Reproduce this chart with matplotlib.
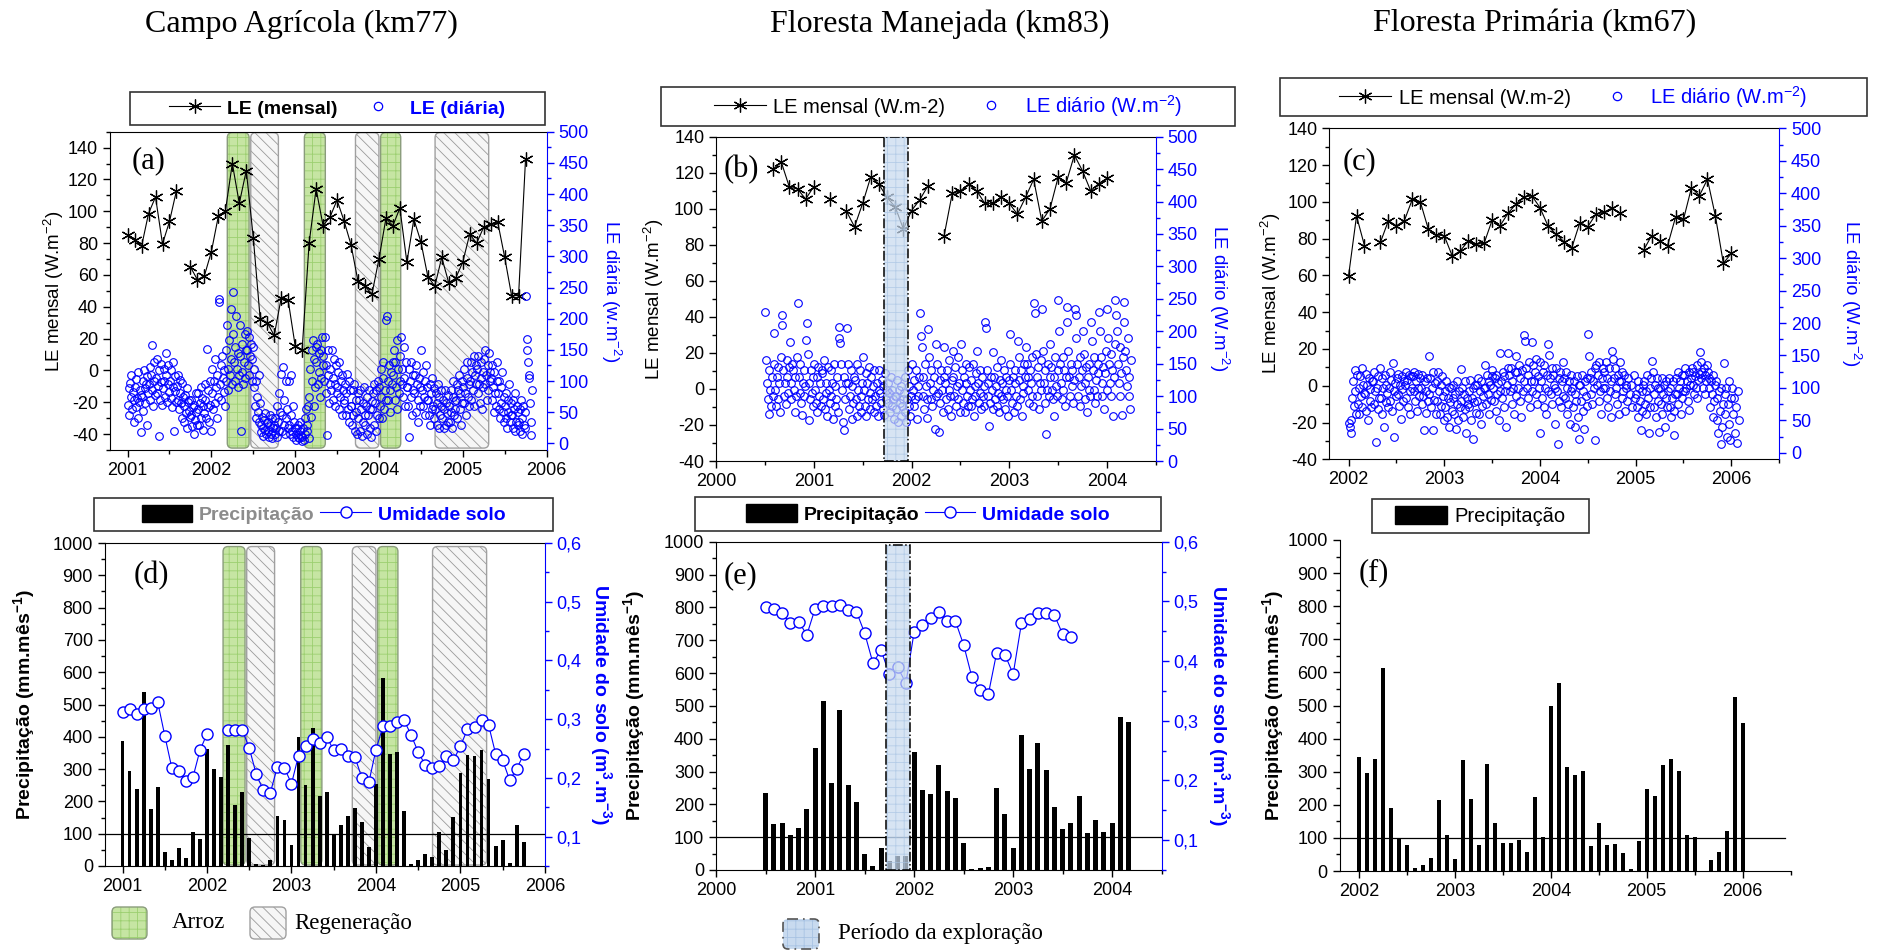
import numpy as np
import matplotlib.pyplot as plt
from matplotlib.patches import FancyBboxPatch, Rectangle, Patch
from matplotlib.lines import Line2D
from matplotlib.transforms import blended_transform_factory
from matplotlib.ticker import MultipleLocator, FuncFormatter

# --- FONT SETTINGS ---
plt.rcParams.update({
    'font.family': 'Liberation Sans',
    'font.size': 13,
    'axes.unicode_minus': False,
    'mathtext.fontset': 'custom',
    'mathtext.rm': 'Liberation Sans',
    'mathtext.it': 'Liberation Sans:italic',
    'mathtext.bf': 'Liberation Sans:bold',
    'mathtext.default': 'regular',
    'hatch.linewidth': 0.6,
})

nan = np.nan
W, H = 1883, 951

# --- DATA ---
# Campo Agricola (km77): monthly series start Jan 2001
le_mensal_a = [85, 82, 78, 98.6, 109, 79.5, 93.6, 113, nan, 65, 57, 59.5,
               74.6, 97, 100, 130, 105, 125.6, 83.5, 32, 30, 22, 45.5, 44,
               15.6, 13, 80, 114, 91, 96.5, 107, 94, 79, 56, 53, 48,
               70, 95.5, 91, 102, 68, 95, 81, 59, 53, 71, 55, 58,
               68, 85.6, 80, 90, 92, 93.4, 71.4, 47, 47, 133]

# daily LE, one string per month (Jan 2001 ... Oct 2005)
daily_a = [
    "62 88 45 97 74 110 55 83 35 70",
    "90 58 104 72 40 115 66 85 18 78",
    "75 100 52 118 88 64 95 30 108 80",
    "95 122 70 110 85 158 60 100 130 78",
    "105 80 135 92 12 118 70 128 98 62",
    "88 120 100 75 145 110 66 95 125 82",
    "100 72 118 58 90 130 20 84 108 66",
    "92 70 110 55 80 102 64 40 96 75",
    "60 35 78 48 88 25 66 52 70 42",
    "45 70 28 58 15 62 38 80 50 30",
    "55 80 30 65 90 40 72 22 60 48",
    "70 95 40 152 58 85 35 100 62 20",
    "80 120 55 100 135 65 90 40 110 75",
    "232 227 95 125 70 140 105 82 118 60",
    "150 100 190 120 85 165 110 215 135 95",
    "243 175 130 100 155 205 120 90 145 110",
    "190 140 20 115 160 95 130 175 105 150",
    "180 150 125 170 110 140 160 100 135 155",
    "120 90 60 100 40 75 50 110 35 65",
    "30 18 42 25 12 38 22 48 15 33",
    "20 35 10 28 45 15 8 40 25 30",
    "15 40 25 60 10 35 80 20 50 112",
    "20 45 123 30 70 15 100 40 55 25",
    "30 100 15 45 110 20 60 10 35 25",
    "15 5 25 10 30 8 20 35 12 3",
    "10 25 5 40 15 55 30 20 60 8",
    "75 120 43 150 100 165 60 135 90 155",
    "130 160 95 145 115 75 150 105 170 125",
    "140 100 171 80 125 13 110 150 65 95",
    "120 85 150 70 105 135 60 95 125 80",
    "90 115 55 130 75 100 45 110 85 65",
    "70 95 45 80 112 55 100 35 85 60",
    "60 30 85 45 95 20 70 50 15 80",
    "40 70 20 85 55 12 65 35 90 45",
    "30 60 15 75 45 85 25 55 10 68",
    "55 80 30 95 65 20 85 45 100 40",
    "90 60 120 75 40 105 130 55 85 70",
    "198 205 100 70 125 85 50 115 95 130",
    "110 150 70 130 90 165 55 120 80 100",
    "140 170 95 120 75 155 105 60 130 90",
    "90 60 120 10 100 75 130 45 85 110",
    "80 110 50 125 95 35 70 105 60 90",
    "150 85 60 115 75 100 45 125 90 70",
    "70 45 95 30 80 55 105 60 40 88",
    "55 80 30 65 95 25 75 45 85 60",
    "40 70 25 55 85 30 65 48 78 35",
    "60 35 85 50 25 75 100 45 68 55",
    "70 95 40 85 110 55 80 30 100 65",
    "90 65 120 80 45 105 130 75 95 60",
    "100 130 70 115 85 140 60 110 95 125",
    "120 80 140 95 65 130 105 55 115 90",
    "135 95 150 110 70 125 85 145 100 115",
    "105 70 125 90 50 115 80 60 100 130",
    "80 55 100 40 90 65 115 50 75 35",
    "60 40 80 25 70 50 95 35 65 45",
    "45 70 25 55 20 80 35 60 30 50",
    "35 55 20 70 40 15 60 30 50 25",
    "237 167 150 130 110 105 64 35 14 85",
]

precip_d = [388, 295, 239, 540, 176, 246, 44, 19, 57, 26, 106, 83,
            362, 300, 276, 374, 189, 229, 86, 5, 4, 18, 156, 143,
            65, 400, 251, 427, 217, 228, 99, 126, 155, 179, 136, 60,
            254, 582, 347, 354, 169, 6, 19, 37, 28, 104, 48, 152,
            288, 344, 340, 360, 269, 61, 79, 8, 127, 74]
umidade_d = [0.312, 0.318, 0.308, 0.318, 0.319, 0.329, 0.272, 0.217, 0.211, 0.195, 0.201, 0.247,
             0.275, nan, nan, 0.282, 0.281, 0.282, 0.251, 0.206, 0.179, 0.175, 0.219, 0.217,
             0.190, 0.238, 0.255, 0.267, 0.260, 0.270, 0.247, 0.250, 0.237, 0.236, 0.200, 0.193,
             0.248, 0.288, 0.288, 0.296, 0.298, 0.273, 0.244, 0.222, 0.217, 0.220, 0.237, 0.230,
             0.254, 0.283, 0.287, 0.298, 0.290, 0.241, 0.230, 0.196, 0.216, 0.240]

arroz_periods = [(2002.19, 2002.45), (2003.11, 2003.36), (2004.02, 2004.26)]
regen_periods = [(2002.47, 2002.80), (2003.72, 2004.00), (2004.67, 2005.31)]

# Floresta Manejada (km83): monthly LE from Aug 2000, daily/precip/soil from Jul 2000
le_mensal_b = [122, 126, 112, 111, 105.4,
               112.3, nan, 105.4, nan, 98.7, 90, 103, 117.8, 113.5, 106.3, 101, 88.8,
               99, 104.9, 112.6, nan, 85, 108.5, 110, 113.5, 110, 103, 103, 106.7,
               103, 97, 106.3, 116.3, 93.2, 99.9, 117.4, 114.5, 129.8, 121, 110, 114,
               116.9]

daily_b = [
    "229 155 120 95 140 72 110 85 130 100",
    "150 198 110 85 130 145 95 120 75 160",
    "210 225 140 100 120 88 155 130 105 145",
    "184 120 95 150 140 110 75 130 100 160",
    "243 130 105 150 90 71 120 140 100 115",
    "187 213 165 63 120 95 140 105 85 130",
    "150 110 90 130 75 145 100 120 85 140",
    "135 95 155 80 120 105 70 145 110 90",
    "140 100 120 65 150 85 115 95 130 75",
    "207 190 182 150 110 60 130 48 95 120",
    "205 150 120 80 100 140 65 115 90 130",
    "125 95 150 70 110 85 140 100 75 120",
    "160 110 85 135 70 120 95 145 80 105",
    "130 95 115 75 140 100 85 120 70 110",
    "140 105 90 125 80 115 71 135 95 110",
    "120 90 105 75 130 85 110 95 65 100",
    "100 80 125 60 110 90 70 115 85 95",
    "105 75 130 60 95 140 85 115 70 100",
    "150 110 85 125 95 140 65 115 100 130",
    "228 193 176 130 100 80 150 115 66 95",
    "203 160 120 95 140 85 110 130 50 100",
    "180 150 105 45 125 90 140 110 75 130",
    "175 120 95 140 80 110 155 100 70 125",
    "170 130 100 145 85 115 160 95 120 75",
    "180 140 110 90 130 75 120 150 100 85",
    "145 110 85 125 95 150 70 115 100 135",
    "170 120 90 140 105 80 130 100 115 85",
    "215 205 140 100 120 54 90 130 110 80",
    "168 130 95 115 85 145 105 75 125 100",
    "155 120 95 140 80 110 130 100 70 125",
    "196 150 110 90 130 75 120 140 100 85",
    "185 160 125 95 140 70 115 105 150 130",
    "176 150 110 130 90 140 120 100 160 85",
    "243 228 165 130 100 145 80 120 155 110",
    "235 170 120 90 140 42 110 150 100 130",
    "180 145 110 95 130 70 160 115 100 140",
    "248 200 150 120 95 160 110 140 85 130",
    "238 215 170 130 100 150 115 140 90 125",
    "235 225 190 150 100 130 85 160 115 140",
    "200 165 120 95 145 75 130 110 150 100",
    "215 185 140 110 160 90 125 100 150 135",
    "230 200 160 120 100 145 80 135 170 110",
    "235 190 150 120 165 100 140 70 130 180",
    "248 225 200 150 120 175 100 135 71 160",
    "245 215 170 140 115 190 100 130 80 155",
]

precip_e = [236, 139, 144, 107, 128, 187,
            373, 515, 264, 487, 259, 208, 49, 13, 67, 28, 43, 43,
            359, 244, 231, 319, 242, 218, 82, 3, 7, 8, 250, 170,
            66, 411, 307, 386, 304, 192, 125, 142, 225, 113, 151, 117,
            144, 465, 450]
umidade_e = [0.491, 0.487, 0.480, 0.463, 0.466, 0.444,
             0.488, 0.493, 0.492, 0.494, 0.485, 0.483, 0.447, 0.397, 0.418, 0.378, 0.390, 0.363,
             0.449, 0.460, 0.473, 0.482, 0.467, 0.467, 0.427, 0.373, 0.351, 0.345, 0.414, 0.411,
             0.378, 0.463, 0.470, 0.481, 0.481, 0.477, 0.445, 0.441]

exploracao_period = (2001.72, 2001.96)

# Floresta Primaria (km67): everything from Jan 2002
le_mensal_c = [59.7, 92.3, 76.2, nan, 78, 89.8, 87, 89.8, 101.4, 100, 85.2, 82,
               81.6, 70.6, 73.3, 78.7, 76.9, 77.5, 90, 87, 93.8, 98.8, 102.8, 103.2,
               96.9, 87, 82.5, 78.4, 75.1, 88.7, 86.5, 93.2, 94.3, 96.5, 93.8, nan,
               nan, 73.8, 81.6, 78.9, 76.2, 91.6, 90.5, 107.7, 103.4, 112.3, 92.3, 66.6,
               72]

daily_c = [
    "46 40 51 30 85 110 72 128 95 60",
    "120 75 100 60 118 88 130 70 105 92",
    "90 122 65 105 50 115 80 98 70 110",
    "110 75 125 95 17 100 68 118 85 130",
    "85 115 60 100 40 120 78 105 92 70",
    "100 125 80 112 65 138 95 25 108 88",
    "115 90 122 72 105 52 118 98 80 110",
    "105 125 85 112 70 120 95 60 118 100",
    "118 95 125 80 110 65 122 100 88 115",
    "100 75 120 88 35 110 62 95 115 80",
    "149 90 115 70 100 35 125 82 108 60",
    "110 80 125 95 60 105 72 118 88 50",
    "95 70 110 55 85 102 40 78 100 65",
    "85 105 60 90 37 75 110 50 95 70",
    "129 80 100 55 90 68 110 30 85 75",
    "95 70 112 50 85 100 22 78 105 62",
    "105 80 115 60 95 45 110 72 88 100",
    "135 100 75 120 90 110 60 105 82 118",
    "127 100 80 115 65 120 90 108 50 95",
    "154 110 85 125 70 118 95 40 105 130",
    "154 120 95 130 75 110 100 60 125 88",
    "149 125 100 135 80 115 55 128 95 110",
    "182 173 130 100 120 85 140 70 110 95",
    "170 135 110 125 90 145 75 118 100 30",
    "140 110 85 125 70 135 100 60 120 95",
    "168 150 115 90 130 75 120 105 45 100",
    "130 95 14 115 80 125 70 110 140 88",
    "115 85 125 60 100 75 110 45 95 120",
    "100 70 110 40 90 80 118 55 105 22",
    "105 80 120 65 95 37 110 88 72 115",
    "183 149 115 90 125 75 110 100 19 130",
    "135 105 120 80 140 95 60 115 130 100",
    "125 100 140 85 115 70 130 95 110 55",
    "157 145 115 90 130 100 75 120 60 110",
    "140 110 85 125 95 120 65 105 100 80",
    "115 90 105 70 120 85",
    "90 70 110 55 100 80 35 95 65 105",
    "110 75 95 60 120 85 30 100 70 115",
    "142 125 90 70 105 55 115 80 100 32",
    "100 75 115 60 90 105 40 85 110 70",
    "95 115 70 100 55 85 110 65 28 90",
    "115 90 125 75 100 110 60 120 85 95",
    "120 95 130 100 110 80 125 66 105 115",
    "130 105 125 90 118 100 135 85 112 122",
    "156 140 115 125 100 130 90 120 110 135",
    "125 100 115 70 110 90 55 120 80 105",
    "110 50 85 30 95 65 14 100 40 75",
    "138 90 60 100 25 75 45 110 20 85",
    "100 60 85 30 70 15 95 50",
]

precip_f = [343, 296, 339, 614, 189, 97, 78, 10, 17, 39, 214, 108,
            35, 334, 217, 78, 323, 146, 84, 84, 95, 58, 223, 102,
            500, 567, 315, 289, 303, 77, 146, 79, 83, 54, 6, 90,
            248, 227, 319, 339, 303, 110, 103, nan, 32, 58, 122, 525,
            447]

titles = ['Campo Agrícola (km77)', 'Floresta Manejada (km83)', 'Floresta Primária (km67)']


# --- HELPERS ---
def month_x(year, month0, n):
    return year + (month0 + np.arange(n)) / 12.0


def daily_xy(year, month0, months):
    xs, ys = [], []
    for i, s in enumerate(months):
        vals = [float(v) for v in s.split()]
        n = len(vals)
        for k, v in enumerate(vals):
            xs.append(year + (month0 + i + (k + 0.5) / n) / 12.0)
            ys.append(v)
    return np.array(xs), np.array(ys)


def px_rect(l, t, r, b):
    return [l / W, 1 - b / H, (r - l) / W, (b - t) / H]


def setup(ax, xlim, ylim, ymaj, ymin, box=True):
    ax.set_xlim(*xlim)
    ax.set_ylim(*ylim)
    ax.xaxis.set_major_locator(MultipleLocator(1))
    ax.xaxis.set_minor_locator(MultipleLocator(0.5))
    ax.xaxis.set_major_formatter(FuncFormatter(lambda v, p: f'{v:.0f}'))
    ax.yaxis.set_major_locator(MultipleLocator(ymaj))
    ax.yaxis.set_minor_locator(MultipleLocator(ymin))
    ax.tick_params(which='both', direction='out', top=False, right=False,
                   labelsize=13, width=1)
    ax.tick_params(which='major', length=5)
    ax.tick_params(which='minor', length=3)
    ax.spines['right'].set_visible(False)
    ax.spines['top'].set_visible(box)


def twin(ax, ylim, maj, mnr, fmt=None):
    a2 = ax.twinx()
    a2.set_ylim(*ylim)
    a2.yaxis.set_major_locator(MultipleLocator(maj))
    a2.yaxis.set_minor_locator(MultipleLocator(mnr))
    for s in ('left', 'top', 'bottom'):
        a2.spines[s].set_visible(False)
    a2.spines['right'].set_color('blue')
    a2.tick_params(axis='y', which='both', colors='blue', direction='out', labelsize=13, width=1)
    a2.tick_params(axis='y', which='major', length=5)
    a2.tick_params(axis='y', which='minor', length=3)
    if fmt is not None:
        a2.yaxis.set_major_formatter(fmt)
    return a2


STYLES = {
    'arroz': dict(face='#c6e5a3', hcol='#9ccf70', hatch='++', edge='#8a9c7c'),
    'regen': dict(face='#f6f6f6', hcol='#9a9a9a', hatch='\\\\\\', edge='#a0a0a0'),
    'expl': dict(face='#c8daef', hcol='#a8c3e3', hatch='++', edge='black'),
}


def draw_region(ax, x0, x1, kind, y0=0.0, y1=1.0, z=0.5, alpha=1.0):
    st = STYLES[kind]
    tr = blended_transform_factory(ax.transData, ax.transAxes)
    pos = ax.get_position()
    xl = ax.get_xlim()
    asp = (pos.width * W / (xl[1] - xl[0])) / (pos.height * H)
    if kind == 'expl':
        ax.add_patch(Rectangle((x0, y0), x1 - x0, y1 - y0, transform=tr, facecolor=st['face'],
                               edgecolor=st['hcol'], hatch=st['hatch'], lw=0, alpha=alpha, zorder=z))
        ax.add_patch(Rectangle((x0, y0), x1 - x0, y1 - y0, transform=tr, fill=False,
                               edgecolor='black', ls='-.', lw=1.1, zorder=z + 0.1))
        return
    kw = dict(boxstyle='round,pad=0,rounding_size=0.06', transform=tr, mutation_aspect=asp)
    ax.add_patch(FancyBboxPatch((x0, y0), x1 - x0, y1 - y0, facecolor=st['face'], edgecolor=st['hcol'],
                                hatch=st['hatch'], lw=0, alpha=alpha, zorder=z, **kw))
    ax.add_patch(FancyBboxPatch((x0, y0), x1 - x0, y1 - y0, fill=False, edgecolor=st['edge'],
                                lw=1.0, zorder=z, **kw))


star_kw = dict(color='black', lw=0.8, marker=(6, 2, 0), ms=10, mew=0.9, zorder=3)
circ_kw = dict(ls='none', marker='o', ms=5.5, mfc='none', mec='blue', mew=0.8)
soil_kw = dict(color='blue', lw=0.8, marker='o', ms=8, mfc='white', mec='blue', mew=1.0, zorder=4)
comma = FuncFormatter(lambda v, p: f'{v:.1f}'.replace('.', ','))

fig = plt.figure(figsize=(W / 100, H / 100), dpi=100)
over = fig.add_axes([0, 0, 1, 1])
over.set_xlim(0, W)
over.set_ylim(H, 0)
over.axis('off')

# --- (a) ---
ax = fig.add_axes(px_rect(110, 131.7, 546.5, 450))
setup(ax, (2000.79, 2006), (-50, 150), 20, 10)
for x0, x1 in arroz_periods:
    draw_region(ax, x0, x1, 'arroz', 0.006, 0.997)
for x0, x1 in regen_periods:
    draw_region(ax, x0, x1, 'regen', 0.006, 0.997)
ax.plot(month_x(2001, 0, len(le_mensal_a)), le_mensal_a, **star_kw)
ax.set_ylabel('LE mensal (W.m$^{-2}$)', fontsize=13.5, va='center')
ax.yaxis.set_label_coords(-0.128, 0.5)
ax.text(0.05, 0.91, '(a)', transform=ax.transAxes, fontsize=22, family='Liberation Serif', va='center')
ax2 = twin(ax, (-10.7, 500), 50, 25)
xd, yd = daily_xy(2001, 0, daily_a)
ax2.plot(xd, yd, **circ_kw)
ax2.set_ylabel('LE diária (w.m$^{-2}$)', fontsize=13.5, color='blue', rotation=270, va='center')
ax2.yaxis.set_label_coords(1.148, 0.5)

# --- (b) ---
ax = fig.add_axes(px_rect(716.1, 136.7, 1155.8, 461))
setup(ax, (2000, 2004.5), (-40, 140), 20, 10)
ax.plot(month_x(2000, 7, len(le_mensal_b)), le_mensal_b, **star_kw)
ax.set_ylabel('LE mensal (W.m$^{-2}$)', fontsize=13.5, va='center')
ax.yaxis.set_label_coords(-0.142, 0.5)
ax.text(0.017, 0.90, '(b)', transform=ax.transAxes, fontsize=22, family='Liberation Serif', va='center')
ax2 = twin(ax, (0, 500), 50, 25)
xd, yd = daily_xy(2000, 6, daily_b)
ax2.plot(xd, yd, **circ_kw)
draw_region(ax2, exploracao_period[0], exploracao_period[1], 'expl', 0, 1, z=10, alpha=0.72)
ax2.set_ylabel('LE diário (W.m$^{-2}$)', fontsize=13.5, color='blue', rotation=270, va='center')
ax2.yaxis.set_label_coords(1.144, 0.5)

# --- (c) ---
ax = fig.add_axes(px_rect(1329.4, 128.3, 1779.2, 459.3))
setup(ax, (2001.8, 2006.5), (-40, 140), 20, 10)
ax.plot(month_x(2002, 0, len(le_mensal_c)), le_mensal_c, **star_kw)
ax.set_ylabel('LE mensal (W.m$^{-2}$)', fontsize=13.5, va='center')
ax.yaxis.set_label_coords(-0.130, 0.5)
ax.text(0.029, 0.90, '(c)', transform=ax.transAxes, fontsize=22, family='Liberation Serif', va='center')
ax2 = twin(ax, (-10, 500), 50, 25)
xd, yd = daily_xy(2002, 0, daily_c)
ax2.plot(xd, yd, **circ_kw)
ax2.set_ylabel('LE diário (W.m$^{-2}$)', fontsize=13.5, color='blue', rotation=270, va='center')
ax2.yaxis.set_label_coords(1.16, 0.5)

# --- (d) ---
ax = fig.add_axes(px_rect(104.8, 543, 544.9, 866))
setup(ax, (2000.79, 2006), (0, 1000), 100, 50)
for x0, x1 in arroz_periods:
    draw_region(ax, x0, x1, 'arroz', 0.003, 0.989)
for x0, x1 in regen_periods:
    draw_region(ax, x0, x1, 'regen', 0.003, 0.989)
ax.bar(month_x(2001, 0, len(precip_d)), precip_d, width=0.045, color='black', zorder=2)
ax.axhline(100, color='black', lw=0.9, zorder=2.5)
ax.set_ylabel('Precipitação (mm.mês$^{\\mathbf{-1}}$)', fontsize=14, fontweight='bold', va='center')
ax.yaxis.set_label_coords(-0.184, 0.5)
ax.text(0.065, 0.90, '(d)', transform=ax.transAxes, fontsize=22, family='Liberation Serif', va='center')
ax2 = twin(ax, (0.05, 0.6), 0.1, 0.05, comma)
ax2.plot(month_x(2001, 0, len(umidade_d)), umidade_d, **soil_kw)
ax2.set_ylabel('Umidade do solo (m$^{\\mathbf{3}}$.m$^{\\mathbf{-3}}$)', fontsize=14, fontweight='bold',
               color='blue', rotation=270, va='center')
ax2.yaxis.set_label_coords(1.127, 0.5)

# --- (e) ---
ax = fig.add_axes(px_rect(716.1, 541.7, 1161.7, 870))
setup(ax, (2000, 2004.5), (0, 1000), 100, 50)
ax.bar(month_x(2000, 6, len(precip_e)), precip_e, width=0.05, color='black', zorder=2)
ax.axhline(100, color='black', lw=0.9, zorder=2.5)
ax.set_ylabel('Precipitação (mm.mês$^{\\mathbf{-1}}$)', fontsize=14, fontweight='bold', va='center')
ax.yaxis.set_label_coords(-0.185, 0.5)
ax.text(0.017, 0.895, '(e)', transform=ax.transAxes, fontsize=22, family='Liberation Serif', va='center')
ax2 = twin(ax, (0.05, 0.6), 0.1, 0.05, comma)
ax2.plot(month_x(2000, 6, len(umidade_e)), umidade_e, **soil_kw)
draw_region(ax2, exploracao_period[0], exploracao_period[1], 'expl', 0, 0.99, z=10, alpha=0.72)
ax2.set_ylabel('Umidade do solo (m$^{\\mathbf{3}}$.m$^{\\mathbf{-3}}$)', fontsize=14, fontweight='bold',
               color='blue', rotation=270, va='center')
ax2.yaxis.set_label_coords(1.129, 0.5)

# --- (f) ---
ax = fig.add_axes(px_rect(1339.6, 540, 1790.7, 871))
setup(ax, (2001.8, 2006.5), (0, 1000), 100, 50, box=False)
ax.bar(month_x(2002, 0, len(precip_f)), precip_f, width=0.045, color='black', zorder=2)
ax.axhline(100, xmax=0.988, color='black', lw=0.9, zorder=2.5)
ax.set_ylabel('Precipitação (mm.mês$^{\\mathbf{-1}}$)', fontsize=14, fontweight='bold', va='center')
ax.yaxis.set_label_coords(-0.148, 0.5)
ax.text(0.043, 0.90, '(f)', transform=ax.transAxes, fontsize=22, family='Liberation Serif', va='center')

# --- TITLES ---
for cx, t in zip([301.5, 940, 1535], titles):
    fig.text(cx / W, 1 - 24 / H, t, ha='center', va='center', fontsize=23, family='Liberation Serif')

# --- LEGENDS (framed boxes above each panel) ---
h_star = Line2D([], [], color='black', lw=0.8, marker=(6, 2, 0), ms=10, mew=0.9)
h_circ = Line2D([], [], ls='none', marker='o', ms=6, mfc='none', mec='blue', mew=0.9)
h_bar = Patch(facecolor='black', edgecolor='black')
h_soil = Line2D([], [], color='blue', lw=0.8, marker='o', ms=8, mfc='white', mec='blue', mew=1.0)

legends = [
    ((129.7, 92, 544.9, 125), [h_star, h_circ], ['LE (mensal)', 'LE (diária)'], ['black', 'blue'], 'bold', 14, 0.8),
    ((660.7, 87, 1234.9, 126), [h_star, h_circ], ['LE mensal (W.m-2)', 'LE diário (W.m$^{-2}$)'],
     ['black', 'blue'], 'normal', 14.5, 1.0),
    ((1279.8, 78, 1866.6, 116), [h_star, h_circ], ['LE mensal (W.m-2)', 'LE diário (W.m$^{-2}$)'],
     ['black', 'blue'], 'normal', 14.5, 1.0),
    ((94.1, 498, 552.8, 531), [h_bar, h_soil], ['Precipitação', 'Umidade solo'], ['#8c8c8c', 'blue'], 'bold', 14, 0.3),
    ((695.1, 497, 1160.9, 531), [h_bar, h_soil], ['Precipitação', 'Umidade solo'], ['black', 'blue'], 'bold', 14, 0.3),
    ((1372, 499, 1588.6, 533), [h_bar], ['Precipitação'], ['black'], 'normal', 14.5, 0.3),
]
for (l, t, r, b), hs, labs, cols, wt, fs, cs in legends:
    over.add_patch(Rectangle((l, t), r - l, b - t, fill=False, edgecolor='#333333', lw=1.2))
    fig.legend(hs, labs, loc='center', bbox_to_anchor=((l + r) / 2 / W, 1 - (t + b) / 2 / H),
               frameon=False, ncol=len(hs), prop={'size': fs, 'weight': wt}, labelcolor=cols,
               handlelength=2.6, handleheight=1.0, handletextpad=0.35, columnspacing=cs,
               borderpad=0, borderaxespad=0)

# --- BOTTOM LEGEND (land use periods) ---
def legend_patch(x, y, w, h, kind):
    st = STYLES[kind]
    if kind == 'expl':
        over.add_patch(FancyBboxPatch((x, y), w, h, boxstyle='round,pad=0,rounding_size=5',
                                      facecolor=st['face'], edgecolor=st['hcol'], hatch=st['hatch'], lw=0))
        over.add_patch(FancyBboxPatch((x, y), w, h, boxstyle='round,pad=0,rounding_size=5',
                                      fill=False, edgecolor='#555555', ls=(0, (6, 3, 1, 3)), lw=1.2))
        return
    over.add_patch(FancyBboxPatch((x, y), w, h, boxstyle='round,pad=0,rounding_size=5',
                                  facecolor=st['face'], edgecolor=st['hcol'], hatch=st['hatch'], lw=0))
    over.add_patch(FancyBboxPatch((x, y), w, h, boxstyle='round,pad=0,rounding_size=5',
                                  fill=False, edgecolor=st['edge'], lw=1.0))


legend_patch(112, 907, 35, 32, 'arroz')
over.text(172, 923, 'Arroz', fontsize=16.5, family='Liberation Serif', va='center')
legend_patch(250, 907, 36, 32, 'regen')
over.text(294, 923, 'Regeneração', fontsize=16.5, family='Liberation Serif', va='center')
legend_patch(783, 919, 36, 30, 'expl')
over.text(838, 934, 'Período da exploração', fontsize=16.5, family='Liberation Serif', va='center')

plt.savefig('out.png', dpi=100)
